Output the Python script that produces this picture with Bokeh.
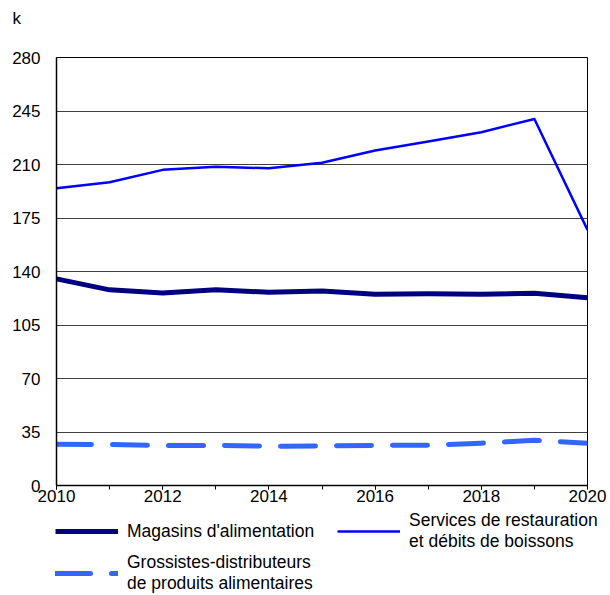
from bokeh.plotting import figure
from bokeh.models import FixedTicker, Legend, LegendItem, Range1d
from bokeh.layouts import column
from bokeh.core.properties import value
from bokeh.embed import file_html
from bokeh.resources import INLINE

years = list(range(2010, 2021))
magasins = [135.2, 128.0, 126.0, 128.0, 126.4, 127.3, 125.1, 125.4, 125.1, 125.8, 122.8]
services = [194.4, 198.4, 206.5, 208.6, 207.5, 211.2, 219.1, 225.0, 231.1, 239.8, 167.2]
grossistes = [27.0, 26.8, 26.2, 26.2, 25.7, 25.9, 26.2, 26.4, 27.7, 29.6, 27.7]
y_ticks = [0, 35, 70, 105, 140, 175, 210, 245, 280]
x_ticks = [2010, 2012, 2014, 2016, 2018, 2020]
x_minor = list(range(2010, 2021))
series_labels = ["Magasins d'alimentation",
                 "Services de restauration\net débits de boissons",
                 "Grossistes-distributeurs\nde produits alimentaires"]
series_colors = ["#000080", "#0000FF", "#3366FF"]
unit = "k"

FONT = "Liberation Sans"
FS = "17px"
LFS = "17.5px"

TOP_H = 40
LEG_H = 85

# ---------------- strips (unit label on top, legend below) ----------------
top = figure(width=610, height=TOP_H, x_range=Range1d(0, 610), y_range=Range1d(0, TOP_H),
             output_backend="svg", toolbar_location=None, title=None,
             x_axis_type=None, y_axis_type=None,
             min_border_left=0, min_border_right=0, min_border_top=0, min_border_bottom=0)
lg = figure(width=610, height=LEG_H, x_range=Range1d(0, 1), y_range=Range1d(0, 1),
            output_backend="svg", toolbar_location=None, title=None,
            x_axis_type=None, y_axis_type=None,
            min_border_left=0, min_border_right=0, min_border_top=0, min_border_bottom=0)

try:
    top.frame_align = False
    lg.frame_align = False
    ALIGN_OFF = True
except Exception:
    ALIGN_OFF = False

# ---------------- main chart ----------------
main_h = 595 - LEG_H - (TOP_H if ALIGN_OFF else 0)
p = figure(width=610, height=main_h, x_range=Range1d(2010, 2020), y_range=Range1d(0, 280),
           output_backend="svg", toolbar_location=None, title=None,
           min_border_left=56, min_border_top=(57 - TOP_H) if ALIGN_OFF else 57,
           min_border_right=23, min_border_bottom=25)
if ALIGN_OFF:
    p.frame_align = False

p.outline_line_color = "black"
p.outline_line_width = 1
p.xgrid.grid_line_color = None
p.ygrid.grid_line_color = "#404040"
p.ygrid.grid_line_width = 1
p.ygrid.ticker = FixedTicker(ticks=y_ticks)

p.yaxis.ticker = FixedTicker(ticks=y_ticks)
p.yaxis.major_tick_line_color = None
p.yaxis.minor_tick_line_color = None
p.yaxis.major_tick_out = 0
p.yaxis.major_tick_in = 0
p.yaxis.major_label_standoff = 16
p.yaxis.axis_line_color = "black"
p.yaxis.axis_line_width = 1.5
p.yaxis.major_label_text_font = FONT
p.yaxis.major_label_text_font_size = FS
p.yaxis.major_label_text_color = "black"

p.xaxis.ticker = FixedTicker(ticks=x_ticks, minor_ticks=x_minor)
p.xaxis.major_tick_out = 4
p.xaxis.major_tick_in = 0
p.xaxis.minor_tick_out = 4
p.xaxis.minor_tick_in = 0
p.xaxis.major_tick_line_color = "black"
p.xaxis.minor_tick_line_color = "black"
p.xaxis.axis_line_color = "black"
p.xaxis.axis_line_width = 1.5
p.xaxis.major_label_standoff = 0
p.xaxis.major_label_text_font = FONT
p.xaxis.major_label_text_font_size = FS
p.xaxis.major_label_text_color = "black"

p.line(years, magasins, line_color=series_colors[0], line_width=5, line_join="round")
p.line(years, services, line_color=series_colors[1], line_width=2.5, line_join="round")
p.line(years, grossistes, line_color=series_colors[2], line_width=5, line_dash="35 21",
       line_cap="round", line_join="round")

# unit label "k"
if ALIGN_OFF:
    top.outline_line_color = None
    top.xgrid.grid_line_color = None
    top.ygrid.grid_line_color = None
    top.text(x=[12], y=[TOP_H - 17.5], text=[unit], text_baseline="middle", text_align="left",
             text_font=value(FONT), text_font_size=value(FS), text_color="black")
else:
    p.title.text = unit
    p.title.align = "left"
    p.title.offset = -44
    p.title.text_font = FONT
    p.title.text_font_size = FS
    p.title.text_font_style = "normal"
    p.title.text_color = "black"

# ---------------- legend strip ----------------
lg.outline_line_color = None
lg.xgrid.grid_line_color = None
lg.ygrid.grid_line_color = None

l1 = lg.line(years, magasins, line_color=series_colors[0], line_width=5, visible=False)
l2 = lg.line(years, services, line_color=series_colors[1], line_width=2.5, visible=False)
l3 = lg.line(years, grossistes, line_color=series_colors[2], line_width=5, line_dash="35 21",
             line_cap="round", visible=False)

# vertical orientation fills columns first: col 1 = Magasins, Grossistes; col 2 = Services
legend = Legend(items=[LegendItem(label=series_labels[0], renderers=[l1]),
                       LegendItem(label=series_labels[2], renderers=[l3]),
                       LegendItem(label=series_labels[1], renderers=[l2])],
                orientation="vertical", nrows=2,
                location=(55, 1) if ALIGN_OFF else (0, 1),
                glyph_width=63, glyph_height=20, label_standoff=9, spacing=0,
                label_width=210 if ALIGN_OFF else 198, inactive_fill_alpha=0,
                padding=0, margin=0, border_line_color=None, background_fill_alpha=0,
                label_text_font=FONT, label_text_font_size=LFS, label_text_color="black")
lg.add_layout(legend, "center")

children = [top, p, lg] if ALIGN_OFF else [p, lg]
layout = column(*children, spacing=0)
open("out.html", "w").write(file_html(layout, INLINE))
